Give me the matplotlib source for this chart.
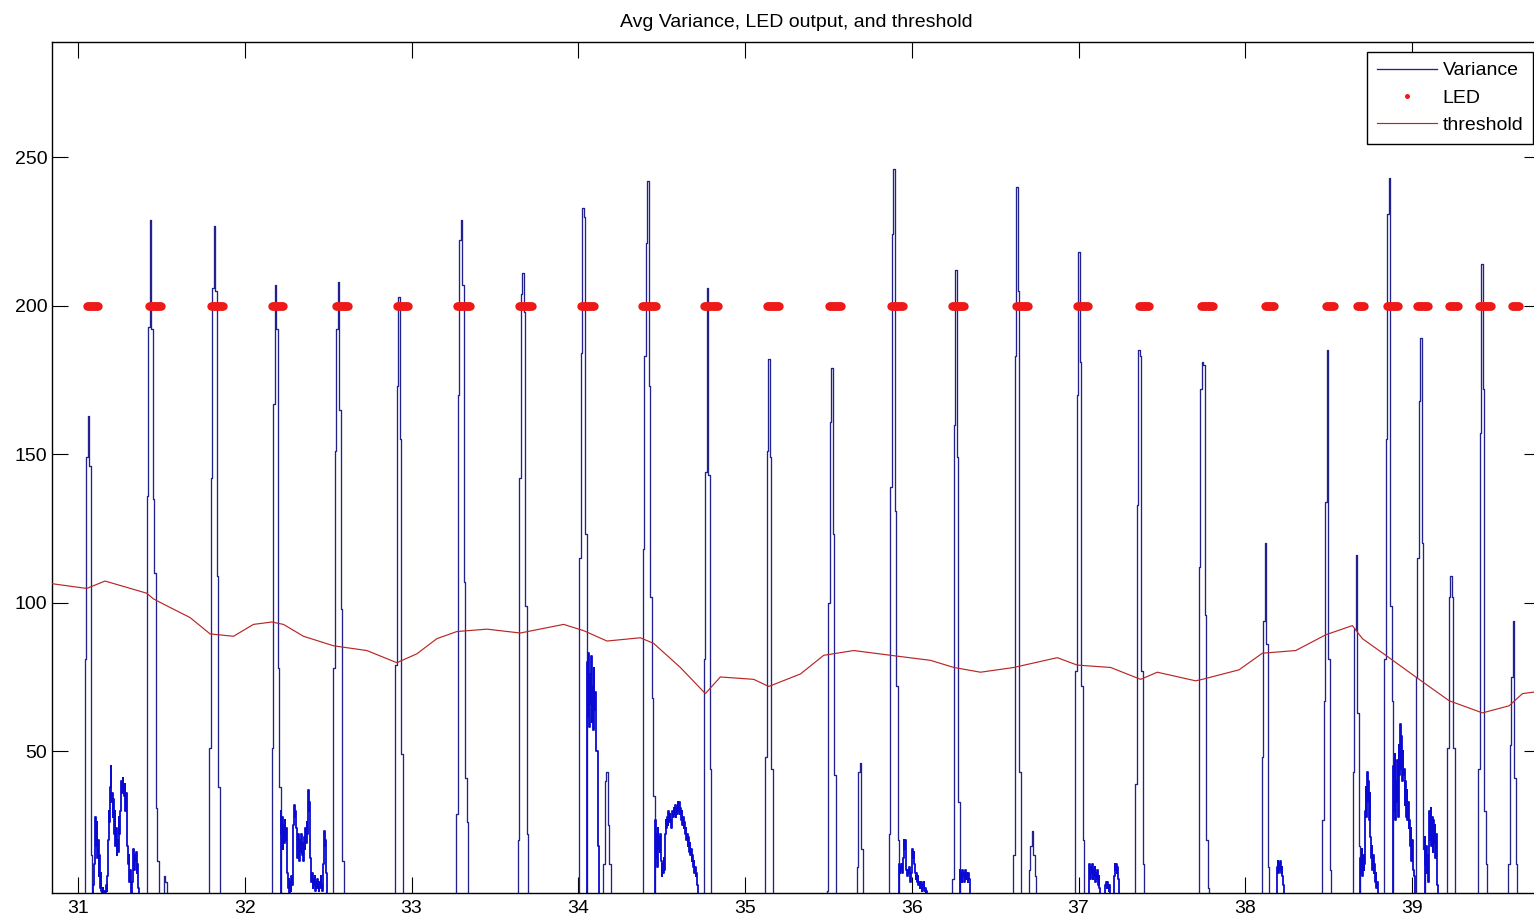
import numpy as np
import matplotlib
matplotlib.use('Agg')
import matplotlib.pyplot as plt

# ---------------- data ----------------
# Variance spikes: start time, values held for SPIKE_DT each
SPIKE_DT = 0.009
spike_start = [31.040, 31.412, 31.788, 32.162, 32.532, 32.902, 33.268, 33.638,
               34.007, 34.387, 34.752, 35.121, 35.491, 35.861, 36.241, 36.607,
               36.980, 37.341, 37.720, 38.097, 38.461, 38.645, 38.834, 39.022,
               39.210, 39.396, 39.576,
               31.513, 34.151, 35.671, 36.700]
spike_vals = [
    [81, 149, 163, 146, 15],
    [136, 193, 229, 192, 135, 110, 31, 13],
    [51, 142, 206, 227, 205, 109, 38],
    [51, 167, 207, 192, 78, 38],
    [78, 151, 192, 208, 165, 98, 13],
    [79, 173, 203, 155, 49],
    [29, 170, 222, 229, 207, 107, 41, 26],
    [20, 142, 204, 211, 198, 99, 22],
    [115, 184, 233, 230, 123],
    [118, 183, 221, 242, 173, 102, 68, 35],
    [81, 144, 206, 143, 44],
    [48, 151, 182, 149, 44],
    [3, 100, 161, 179, 123, 42],
    [22, 139, 224, 246, 131, 72, 20],
    [7, 160, 212, 149, 33],
    [15, 183, 240, 205, 43],
    [77, 170, 218, 181, 72, 20],
    [39, 133, 185, 183, 77, 12],
    [112, 172, 181, 180, 96, 20, 4],
    [48, 94, 120, 86, 11],
    [27, 67, 134, 185, 81, 10],
    [43, 91, 116, 63, 18],
    [81, 155, 231, 243, 99, 67],
    [75, 115, 168, 189, 120, 17],
    [51, 102, 109, 102, 51],
    [44, 157, 214, 172, 30, 12],
    [12, 52, 75, 94, 41, 12],
    [8, 6],
    [12, 40, 43, 25, 12],
    [11, 43, 46, 17],
    [10, 18, 23, 15, 8],
]

# Variance low-level noise bursts: start time, values held for NOISE_DT each
NOISE_DT = 0.004
noise_start = [31.092, 32.216, 34.052, 34.459, 35.924, 36.286, 37.060, 38.190,
               38.690, 38.888, 39.076]
noise_vals = [
    [5, 12, 24, 28, 18, 26, 14, 20, 8, 15, 4, 9, 3,
     2, 4, 1, 3, 0, 2, 5, 3,
     8, 20, 30, 26, 38, 45, 33, 36, 28, 34, 22, 30, 18,
     24, 15, 20, 16, 28, 22, 30,
     34, 40, 36, 41, 38, 35, 39, 30, 36, 26,
     18, 12, 15, 6, 10, 4, 2,
     6, 12, 17, 10, 15, 13, 16, 9, 12, 4, 3, 1],
    [30, 22, 28, 17, 25, 19, 27, 20, 24, 15,
     9, 4, 7, 2, 6, 3, 8, 5, 11,
     25, 32, 28, 30, 24,
     20, 14, 22, 18, 13, 20, 16, 22, 15, 19, 13, 21, 17, 24, 19, 26, 22,
     37, 30, 33,
     14, 8, 6, 9, 4, 7, 5, 8, 3, 6, 4, 7, 5, 3, 6, 4, 8, 5, 3, 6,
     12, 23, 18, 20, 9],
    [80, 62, 83, 58, 76, 66, 82, 60, 72, 57, 78, 64, 70, 60, 50, 50, 18, 18],
    [27, 14, 22, 11, 24, 17, 21, 16, 22, 13,
     8, 12, 9, 14, 10,
     22, 27, 24, 28, 25, 30, 26, 29, 27, 24,
     27, 30, 28, 31, 29, 32, 28, 31, 29, 33,
     30, 33, 29, 31, 27, 30, 25, 28, 24, 26,
     22, 24, 20, 22, 18, 21, 16, 19, 15, 17,
     13, 15, 11, 13, 9, 11, 8, 9, 5, 3],
    [12, 9, 11, 10, 12, 9, 14, 20, 17, 20, 15, 10, 8, 10, 9, 11, 8, 6, 9, 12,
     17, 14, 16, 12, 9, 7, 9, 6, 8, 5, 6, 4, 5, 6, 3, 5, 4, 6, 3, 4, 2, 3, 2, 1],
    [10, 7, 9, 6, 10, 8, 9, 6, 10, 7, 9, 8, 6, 9, 7, 5],
    [8, 12, 7, 11, 9, 12, 7, 10, 8, 11, 6, 9, 7, 10, 5, 8, 4, 2,
     1, 2, 1, 0, 1, 2, 1,
     5, 6, 4, 6, 5, 3, 5, 2,
     1, 0, 1, 2, 1,
     8, 12, 10, 12, 9, 11, 7, 3],
    [11, 13, 9, 12, 10, 13, 9, 11, 8, 5],
    [14, 9, 17, 8, 15, 10, 12, 30, 38, 28, 43, 33, 40, 27, 36, 21, 14, 18, 10,
     15, 9, 12, 6, 9, 4, 6, 3, 2],
    [45, 30, 49, 27, 40, 33, 47, 28, 52, 42, 59, 44, 55, 40, 50, 42, 44, 32,
     40, 28, 37, 27, 33, 24, 27, 18, 24, 13, 20, 14, 10, 8],
    [21, 12, 18, 9, 15, 6, 24, 30, 20, 31, 18, 28, 16, 27, 19, 25, 14, 22, 10, 5],
]

# LED "on" intervals (value 200)
LED_LEVEL = 200
LED_DT = 0.006
led_start = [31.054, 31.426, 31.798, 32.164, 32.548, 32.914, 33.274, 33.646,
             34.017, 34.383, 34.755, 35.133, 35.505, 35.877, 36.243, 36.627,
             36.993, 37.365, 37.737, 38.115, 38.486, 38.672, 38.852, 39.032,
             39.224, 39.404, 39.602]
led_end = [31.120, 31.498, 31.870, 32.230, 32.620, 32.980, 33.357, 33.729,
           34.095, 34.467, 34.839, 35.205, 35.577, 35.949, 36.315, 36.699,
           37.059, 37.425, 37.809, 38.169, 38.534, 38.714, 38.918, 39.098,
           39.278, 39.476, 39.644]

# threshold
th_x = [30.832, 31.052, 31.162, 31.412, 31.452, 31.552, 31.672, 31.792, 31.932,
        32.052, 32.162, 32.232, 32.352, 32.532, 32.732, 32.912, 33.032, 33.152,
        33.272, 33.452, 33.652, 33.912, 34.032, 34.172, 34.372, 34.452, 34.612,
        34.762, 34.852, 35.052, 35.142, 35.332, 35.472, 35.652, 35.872, 36.112,
        36.252, 36.412, 36.612, 36.872, 36.992, 37.192, 37.372, 37.472, 37.702,
        37.742, 37.962, 38.102, 38.302, 38.482, 38.642, 38.702, 38.862, 39.042,
        39.222, 39.422, 39.582, 39.662, 39.77]
th_y = [106.5, 104.8, 107.3, 103.2, 101.3, 98.4, 95.0, 89.5, 88.7, 92.7, 93.5,
        92.7, 88.7, 85.5, 83.9, 79.8, 82.8, 87.9, 90.3, 91.1, 89.8, 92.7, 90.6,
        87.1, 88.2, 86.3, 78.2, 69.4, 75.0, 74.2, 71.8, 76.0, 82.3, 83.9, 82.3,
        80.6, 78.2, 76.6, 78.2, 81.5, 79.0, 78.2, 74.2, 76.6, 73.7, 74.2, 77.4,
        83.0, 83.9, 89.2, 92.3, 87.9, 81.5, 74.2, 67.0, 62.9, 65.3, 69.4, 70.2]

x_ticks = [31, 32, 33, 34, 35, 36, 37, 38, 39]
y_ticks = [50, 100, 150, 200, 250]
title = "Avg Variance, LED output, and threshold"
labels = ["Variance", "LED", "threshold"]


def build(starts, vals, dt):
    tt, vv = [], []
    for t0, vs in sorted(zip(starts, vals)):
        tt.append(t0); vv.append(0)
        for k, v in enumerate(vs):
            tt.append(t0 + k * dt); vv.append(v)
        tt.append(t0 + len(vs) * dt); vv.append(0)
        tt.append(np.nan); vv.append(np.nan)
    return np.array(tt), np.array(vv, dtype=float)


# ---------------- figure ----------------
plt.rcParams['font.family'] = ['Liberation Sans', 'DejaVu Sans']
W, H = 1534, 922
fig = plt.figure(figsize=(W / 100, H / 100), dpi=100)
fig.patch.set_facecolor('white')
L, R, T, B = 52, 1540, 42, 893
ax = fig.add_axes([L / W, (H - B) / H, (R - L) / W, (B - T) / H])

st, sv = build(spike_start, spike_vals, SPIKE_DT)
nt, nv = build(noise_start, noise_vals, NOISE_DT)
ln_var, = ax.plot(st, sv, color='#22228e', lw=0.95, drawstyle='steps-post',
                  label=labels[0], zorder=2)
ax.plot(nt, nv, color='#0a0ad2', lw=1.3, drawstyle='steps-post', zorder=2)

led_t = np.concatenate([np.arange(s, e + 1e-9, LED_DT)
                        for s, e in zip(led_start, led_end)])
ln_led, = ax.plot(led_t, np.full(led_t.shape, LED_LEVEL), linestyle='none',
                  marker='o', ms=6.0, mew=0, color='#ee1a1a',
                  label=labels[1], zorder=3)
ln_th, = ax.plot(th_x, th_y, color='#b82626', lw=0.85, label=labels[2],
                 zorder=4)

ax.set_xlim(30.844, 39.767)
ax.set_ylim(2.26, 288.8)
ax.set_xticks(x_ticks)
ax.set_yticks(y_ticks)
ax.tick_params(direction='in', length=11.5, width=0.8, top=True, right=True,
               labelsize=14, colors='black')
ax.tick_params(axis='y', pad=3.5)
ax.tick_params(axis='x', pad=5)
for sp in ax.spines.values():
    sp.set_linewidth(1.0)
    sp.set_color('black')

fig.text((L + R) / 2 / W, 1 - 27 / H, title, ha='center', va='baseline',
         fontsize=14)

leg = ax.legend(handles=[ln_var, ln_led, ln_th], loc='upper right',
                bbox_to_anchor=(1533 / W, 1 - 52 / H),
                bbox_transform=fig.transFigure, fontsize=14, frameon=True,
                fancybox=False, framealpha=1, edgecolor='black',
                borderpad=0.5, labelspacing=0.5, handlelength=3.1,
                handletextpad=0.28, borderaxespad=0, markerscale=0.6)
leg.get_frame().set_linewidth(1.0)

fig.savefig('out.png', dpi=100)
